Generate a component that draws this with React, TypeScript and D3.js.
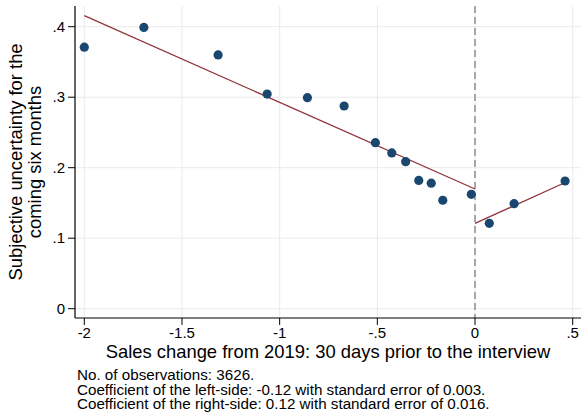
import React from "react";
import * as d3 from "d3";

const xs = [-2.0, -1.695, -1.315, -1.064, -0.858, -0.67, -0.51, -0.426, -0.355, -0.288, -0.224, -0.165, -0.019, 0.073, 0.2, 0.461];
const ys = [0.371, 0.399, 0.36, 0.3045, 0.2993, 0.2875, 0.2355, 0.2209, 0.2085, 0.182, 0.178, 0.1538, 0.1623, 0.1211, 0.149, 0.1811];

const leftFitX = [-2.0, 0.0];
const leftFitY = [0.4156, 0.1698];
const rightFitX = [0.0, 0.461];
const rightFitY = [0.121, 0.179];

const xTicks = [-2, -1.5, -1, -0.5, 0, 0.5];
const yTicks = [0, 0.1, 0.2, 0.3, 0.4];

const notes = [
  "No. of observations: 3626.",
  "Coefficient of the left-side: -0.12 with standard error of 0.003.",
  "Coefficient of the right-side: 0.12 with standard error of 0.016.",
];

const fmt = (v: number) => {
  if (v === 0) return "0";
  const s = String(v);
  return s.replace(/^(-?)0\./, "$1.");
};

const W = 581, H = 418;
const plotL = 75, plotR = 581, plotT = 6, plotB = 318;
const font = "'Liberation Sans', Arial, Helvetica, sans-serif";

export default function App() {
  const x = d3.scaleLinear().domain([-2, 0.5]).range([84.3, 572.7]);
  const y = d3.scaleLinear().domain([0, 0.4]).range([308.7, 26.7]);
  const line = d3.line<[number, number]>().x(d => x(d[0])).y(d => y(d[1]));
  const leftPts: [number, number][] = leftFitX.map((v, i) => [v, leftFitY[i]]);
  const rightPts: [number, number][] = rightFitX.map((v, i) => [v, rightFitY[i]]);
  const plotMidX = (plotL + plotR) / 2;
  const plotMidY = (plotT + plotB) / 2;

  return (
    <svg width={W} height={H} style={{ position: "absolute", left: 0, top: 0, background: "#fff" }} fontFamily={font}>
      <rect width={W} height={H} fill="#fff" />
      {xTicks.map(t => (
        <line key={"gx" + t} x1={x(t)} x2={x(t)} y1={plotT} y2={plotB} stroke="#eaeaea" strokeWidth={1} />
      ))}
      {yTicks.map(t => (
        <line key={"gy" + t} x1={plotL} x2={plotR} y1={y(t)} y2={y(t)} stroke="#eaeaea" strokeWidth={1} />
      ))}
      <line x1={x(0)} x2={x(0)} y1={plotT} y2={plotB} stroke="#7f7f7f" strokeWidth={1.3} strokeDasharray="7,4" />
      <path d={line(leftPts) || ""} fill="none" stroke="#90353b" strokeWidth={1.3} />
      <path d={line(rightPts) || ""} fill="none" stroke="#90353b" strokeWidth={1.3} />
      {xs.map((v, i) => (
        <circle key={i} cx={x(v)} cy={y(ys[i])} r={4.6} fill="#1a476f" />
      ))}
      <line x1={plotL} x2={plotL} y1={plotT} y2={plotB} stroke="#000" strokeWidth={1.2} />
      <line x1={plotL} x2={plotR} y1={plotB} y2={plotB} stroke="#000" strokeWidth={1.2} />
      {yTicks.map(t => (
        <g key={"ty" + t}>
          <line x1={plotL - 7} x2={plotL} y1={y(t)} y2={y(t)} stroke="#000" strokeWidth={1} />
          <text x={plotL - 10} y={y(t)} dy="0.35em" textAnchor="end" fontSize={15} fill="#000">{fmt(t)}</text>
        </g>
      ))}
      {xTicks.map(t => (
        <g key={"tx" + t}>
          <line x1={x(t)} x2={x(t)} y1={plotB} y2={plotB + 7} stroke="#000" strokeWidth={1} />
          <text x={x(t)} y={338} textAnchor="middle" fontSize={15} fill="#000">{fmt(t)}</text>
        </g>
      ))}
      <text x={plotMidX} y={358} textAnchor="middle" fontSize={18.4} fill="#000">
        Sales change from 2019: 30 days prior to the interview
      </text>
      <g transform={`translate(0, ${plotMidY}) rotate(-90)`}>
        <text x={0} y={22} textAnchor="middle" fontSize={18.4} fill="#000">Subjective uncertainty for the</text>
        <text x={0} y={41} textAnchor="middle" fontSize={18.4} fill="#000">coming six months</text>
      </g>
      <text x={77} y={380} fontSize={15.2} fill="#000">
        {notes.map((n, i) => (
          <tspan key={i} x={77} y={380 + i * 14.6}>{n}</tspan>
        ))}
      </text>
    </svg>
  );
}
